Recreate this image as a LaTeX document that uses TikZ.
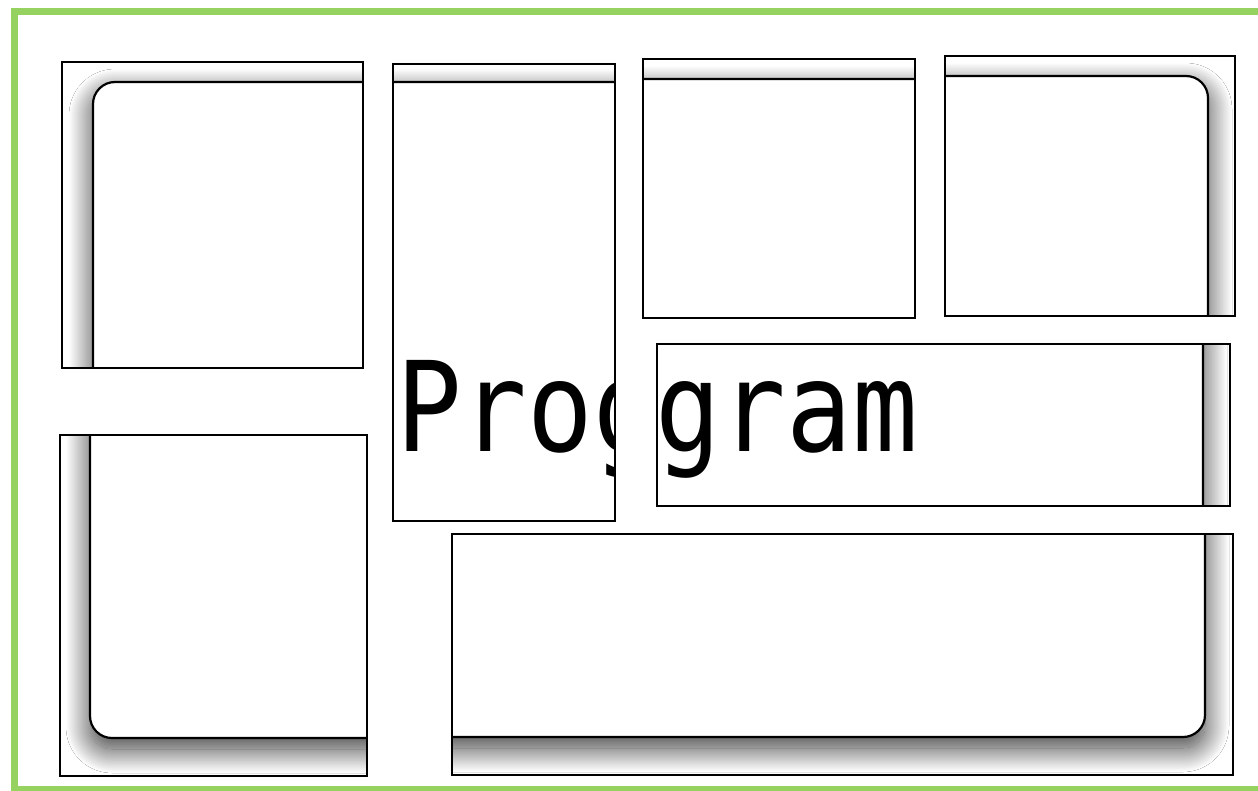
\documentclass[tikz,border=0pt]{standalone}
\usepackage{fontspec}
\newfontfamily\progfont{DejaVu Sans Mono}
\usetikzlibrary{shadows.blur}
\definecolor{framegreen}{RGB}{150,210,95}
\tikzset{
  panelframe/.style={draw=black, line width=2.2pt},
  innercard/.style={draw=black, line width=2.2pt, fill=white, rounded corners=22pt,
    blur shadow={shadow xshift=0pt, shadow yshift=-11pt, shadow blur radius=24pt,
      shadow blur steps=40, shadow opacity=80}},
  progtext/.style={font=\progfont\fontsize{125}{130}\selectfont, inner sep=0pt, anchor=base west, text=black},
}
% #1..#4 window, #5..#8 inner card
\newcommand\mypanel[8]{%
  \begin{scope}
    \clip (#1,#2) rectangle (#3,#4);
    \path[innercard] (#5,#6) rectangle (#7,#8);
  \end{scope}}
\begin{document}
\begin{tikzpicture}[x=1pt,y=-1pt]
  \useasboundingbox (0,0) rectangle (1258,790);
  \fill[white] (0,0) rectangle (1258,790);
  \draw[framegreen, line width=7pt] (14,11.5) rectangle (1266,789.5);
  % A
  \mypanel{62}{62}{363}{368}{93}{82}{1206}{738}
  % B
  \begin{scope}
    \clip (393,64) rectangle (615,521);
    \path[innercard] (92,82) rectangle (1206,738);
    \node[progtext] (progB) at (396,451) {\scalebox{0.873}[1]{Prog}};
  \end{scope}
  % C
  \mypanel{643}{59}{915}{318}{92}{79}{1206}{738}
  % D
  \mypanel{945}{56}{1235}{316}{92}{76}{1208}{738}
  % E
  \mypanel{60}{435}{367}{776}{90}{80}{1206}{738}
  % F
  \mypanel{452}{534}{1233}{775}{92}{80}{1205}{737}
  % G
  \begin{scope}
    \clip (657,344) rectangle (1230,506);
    \path[innercard] (92,80) rectangle (1203,738);
    \node[progtext] (progG) at (655,451) {\scalebox{0.873}[1]{gram}};
  \end{scope}
  % frames
  \draw[panelframe] (62,62) rectangle (363,368);
  \draw[panelframe] (393,64) rectangle (615,521);
  \draw[panelframe] (643,59) rectangle (915,318);
  \draw[panelframe] (945,56) rectangle (1235,316);
  \draw[panelframe] (60,435) rectangle (367,776);
  \draw[panelframe] (452,534) rectangle (1233,775);
  \draw[panelframe] (657,344) rectangle (1230,506);
\end{tikzpicture}
\end{document}
